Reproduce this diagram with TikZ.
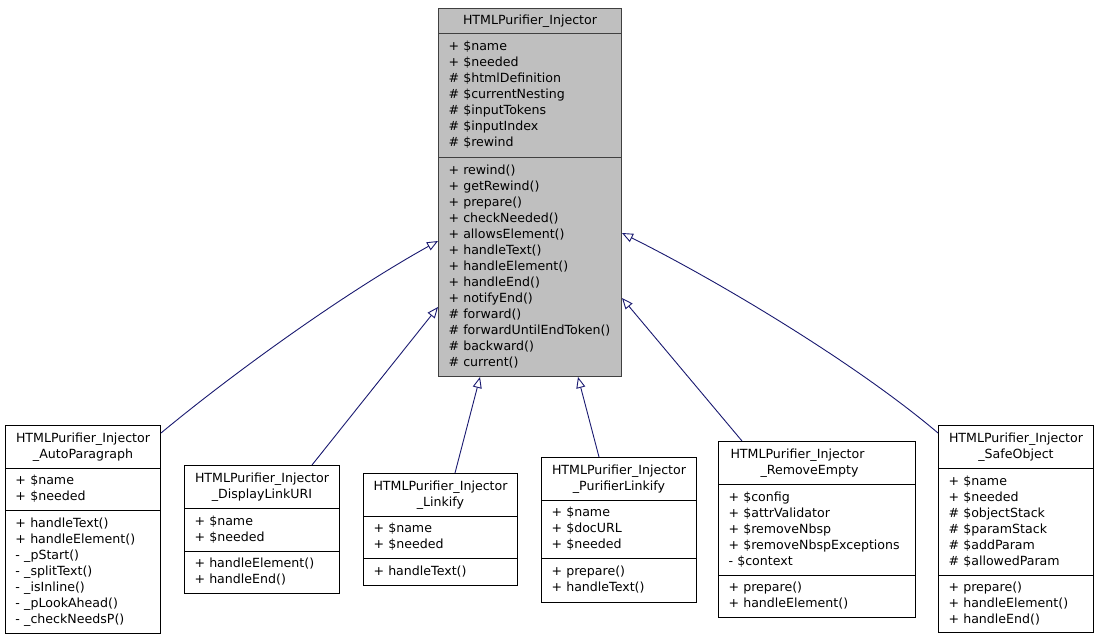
\documentclass[tikz,border=0pt]{standalone}
\usepackage{fontspec}
\setmainfont{DejaVu Sans}
\usetikzlibrary{arrows.meta,calc}
\definecolor{edgeblue}{HTML}{191970}
\definecolor{basegray}{HTML}{BFBFBF}
\definecolor{baseborder}{HTML}{404040}
\newcommand\umlfont{\fontsize{12.6}{16}\selectfont\parindent=0pt }
\tikzset{
  comp/.style={draw=black, line width=1pt, fill=white, anchor=north west,
    inner xsep=10pt, inner ysep=0pt, font=\umlfont, align=left,
    execute at begin node=\strut, execute at end node=\strut},
  ttl/.style={comp, align=center, inner xsep=4pt},
  basecomp/.style={fill=basegray, draw=baseborder},
  sz/.style 2 args={text width=#1, minimum height=#2},
  inh/.style={draw=edgeblue, line width=0.9pt,
    -{Triangle[open, length=11pt, width=9pt]}}
}
\begin{document}
\begin{tikzpicture}[x=1pt,y=-1pt]
\useasboundingbox (0,0) rectangle (1099,640);

% base class
\node[ttl,basecomp,sz={175pt}{25pt}] (bt) at (438,8) {HTMLPurifier\_Injector};
\node[comp,basecomp,sz={163pt}{124pt}] (ba) at (438,33) {+ \$name\\+ \$needed\\\# \$htmlDefinition\\\# \$currentNesting\\\# \$inputTokens\\\# \$inputIndex\\\# \$rewind};
\node[comp,basecomp,sz={163pt}{219pt}] (bm) at (438,157) {+ rewind()\\+ getRewind()\\+ prepare()\\+ checkNeeded()\\+ allowsElement()\\+ handleText()\\+ handleElement()\\+ handleEnd()\\+ notifyEnd()\\\# forward()\\\# forwardUntilEndToken()\\\# backward()\\\# current()};

% AutoParagraph
\node[ttl,sz={147pt}{43pt}] (apt) at (5,425) {HTMLPurifier\_Injector\\\_AutoParagraph};
\node[comp,sz={135pt}{42pt}] (apa) at (5,468) {+ \$name\\+ \$needed};
\node[comp,sz={135pt}{123pt}] (apm) at (5,510) {+ handleText()\\+ handleElement()\\- \_pStart()\\- \_splitText()\\- \_isInline()\\- \_pLookAhead()\\- \_checkNeedsP()};

% DisplayLinkURI
\node[ttl,sz={147pt}{43pt}] (dlt) at (184,465) {HTMLPurifier\_Injector\\\_DisplayLinkURI};
\node[comp,sz={135pt}{43pt}] (dla) at (184,508) {+ \$name\\+ \$needed};
\node[comp,sz={135pt}{42pt}] (dlm) at (184,551) {+ handleElement()\\+ handleEnd()};

% Linkify
\node[ttl,sz={146pt}{43pt}] (lkt) at (363,473) {HTMLPurifier\_Injector\\\_Linkify};
\node[comp,sz={134pt}{42pt}] (lka) at (363,516) {+ \$name\\+ \$needed};
\node[comp,sz={134pt}{27pt}] (lkm) at (363,558) {+ handleText()};

% PurifierLinkify
\node[ttl,sz={147pt}{43pt}] (plt) at (541,457) {HTMLPurifier\_Injector\\\_PurifierLinkify};
\node[comp,sz={135pt}{58pt}] (pla) at (541,500) {+ \$name\\+ \$docURL\\+ \$needed};
\node[comp,sz={135pt}{44pt}] (plm) at (541,558) {+ prepare()\\+ handleText()};

% RemoveEmpty
\node[ttl,align=left,sz={189pt}{43pt}] (ret) at (718,441) {\hspace*{8pt}HTMLPurifier\_Injector\\\hspace*{38pt}\_RemoveEmpty};
\node[comp,sz={177pt}{91pt}] (rea) at (718,484) {+ \$config\\+ \$attrValidator\\+ \$removeNbsp\\+ \$removeNbspExceptions\\- \$context};
\node[comp,sz={177pt}{42pt}] (rem) at (718,575) {+ prepare()\\+ handleElement()};

% SafeObject
\node[ttl,sz={147pt}{43pt}] (sot) at (938,425) {HTMLPurifier\_Injector\\\_SafeObject};
\node[comp,sz={135pt}{107pt}] (soa) at (938,468) {+ \$name\\+ \$needed\\\# \$objectStack\\\# \$paramStack\\\# \$addParam\\\# \$allowedParam};
\node[comp,sz={135pt}{57pt}] (som) at (938,575) {+ prepare()\\+ handleElement()\\+ handleEnd()};

% inheritance
\draw[inh] ([yshift=-8pt]apt.north east) .. controls +(70,-58) and +(-97,54) .. ([yshift=-84pt]bm.north west);
\draw[inh] ([xshift=128pt]dlt.north west) -- ([yshift=-150pt]bm.north west);
\draw[inh] ([xshift=92pt]lkt.north west) -- ([xshift=42pt]bm.south west);
\draw[inh] ([xshift=58pt]plt.north west) -- ([xshift=140pt]bm.south west);
\draw[inh] ([xshift=24pt]ret.north west) -- ([yshift=-141pt]bm.north east);
\draw[inh] ([yshift=-8pt]sot.north west) .. controls +(-80,-68) and +(100,50) .. ([yshift=-76pt]bm.north east);
\end{tikzpicture}
\end{document}
